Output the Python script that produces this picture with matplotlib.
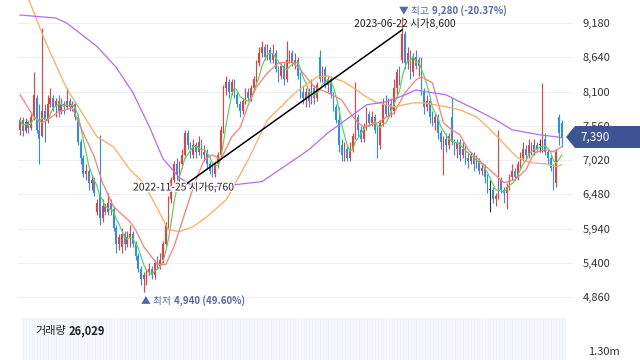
import matplotlib
matplotlib.use('Agg')
import matplotlib.pyplot as plt
import matplotlib.patheffects as pe
from matplotlib.patches import Polygon
import numpy as np
import pandas as pd

# 일봉 데이터 (시가/고가/저가/종가)
opens = [7500,7650,7480,7620,7520,7700,8000,7500,7400,7800,
         7650,7900,8000,7850,7950,7800,7900,7850,7950,7850,
         7900,7700,7300,7050,6800,6850,6650,6700,6200,6500,
         6100,6300,6200,6350,6250,5950,5700,5650,5850,5700,
         5800,5850,5700,5500,5300,5150,5100,5250,5300,5200,
         5400,5350,5450,5700,6000,6400,6700,6950,6760,6950,
         7100,7450,7250,7100,7250,7150,7300,7100,7150,6950,
         6850,6800,6950,7100,7500,8150,8250,8100,8250,8050,
         7900,7800,7950,8100,8000,8150,8300,8550,8700,8800,
         8650,8750,8600,8700,8450,8350,8500,8300,8600,8700,
         8550,8600,8350,8100,8000,8100,7950,8150,8000,8650,
         8300,8450,8200,8300,8050,7850,7650,7250,7100,7200,
         7050,7200,7400,7700,7500,7350,7550,7750,7600,7700,
         7500,7250,7600,7900,7750,7900,7800,8150,8400,8600,
         9000,8550,8700,8400,8650,8500,8600,8100,7850,7950,
         7700,7600,7700,7450,7000,7350,7250,7700,7300,7200,
         7300,7100,7200,7050,7000,7100,6950,7000,6850,6900,
         6750,6550,6550,6400,6450,6700,6550,6500,6600,6750,
         6850,6750,6950,7050,7200,7100,7250,7150,7250,7250,
         7200,7350,7150,7050,6900,6650,7700,7600]
closes = [7650,7480,7620,7520,7700,8050,7500,7350,7800,7650,
          7900,8000,7850,7950,7800,7900,7850,7950,7850,7900,
          7700,7300,7050,6800,6850,6650,6700,6500,6350,6100,
          6300,6200,6350,6250,5950,5700,5800,5850,5700,5800,
          5850,5700,5500,5300,5150,5200,5250,5300,5200,5400,
          5350,5450,5700,6000,6400,6700,6950,6800,6950,7100,
          7450,7250,7100,7250,7150,7300,7100,7150,6950,6850,
          6800,6950,7100,7500,8150,8250,8100,8250,8050,7900,
          7800,7950,8100,8000,8150,8300,8550,8700,8800,8650,
          8750,8600,8700,8450,8350,8500,8300,8600,8700,8550,
          8600,8350,8100,8000,8100,7950,8150,8000,8200,8300,
          8450,8200,8300,8050,7850,7650,7250,7100,7200,7050,
          7200,7400,7700,7500,7350,7550,7750,7600,7700,7500,
          7250,7600,7900,7750,7900,7800,8150,8400,8300,9000,
          8550,8700,8400,8650,8500,8600,8100,7850,7950,7700,
          7600,7700,7450,7300,7350,7250,7400,7300,7200,7300,
          7100,7200,7050,7000,7100,6950,7000,6850,6900,6750,
          6600,6550,6400,6450,6700,6550,6500,6600,6750,6850,
          6750,6950,7050,7200,7100,7250,7150,7250,7200,7250,
          7350,7150,7050,6900,6600,7150,7450,7390]
highs = [7700,7700,7680,7650,7750,8400,8050,7900,9100,7900,
         8050,8150,8050,8000,8050,8000,7950,8150,8000,7950,
         7950,7750,7350,7100,6950,6900,6800,6750,6400,7420,
         6400,6350,6500,6400,6300,6000,5850,5950,5900,5900,
         6000,5900,5750,5550,5350,5250,5300,5400,5350,5450,
         5500,5550,5750,6050,6450,6750,7000,7050,7000,7200,
         7500,7500,7300,7350,7300,7400,7350,7250,7200,7000,
         6950,7000,7150,7550,8200,8350,8300,8300,8300,8100,
         7950,8000,8150,8150,8200,8350,8600,8800,8900,8850,
         8850,8800,8850,8750,8500,8550,8550,8900,8750,8750,
         8700,8650,8400,8200,8150,8150,8300,8200,8250,8750,
         8500,8500,8350,8350,8100,7900,7850,7350,7300,7250,
         7300,7450,8250,7750,7550,7600,7850,7800,7800,7750,
         7550,7650,8000,8050,8000,8000,8300,8450,8500,9280,
         9050,8800,8750,8700,8750,8650,8650,8150,8050,8000,
         7800,7750,7750,7500,7400,7450,7450,8000,7350,7350,
         7350,7300,7250,7150,7150,7150,7100,7050,6950,6950,
         6800,6700,6600,6500,7500,6750,6600,6650,6800,6950,
         6900,7000,7150,7300,7250,7350,7300,7350,7300,7350,
         8240,7450,7200,7100,6950,7200,7750,7650]
lows = [7420,7400,7450,7450,7500,7650,7450,6950,7380,7300,
        7600,7850,7800,7700,7700,7750,7750,7820,7800,7800,
        7650,7250,6950,6750,6700,6550,6550,6450,6150,6000,
        6050,6150,6150,6150,5900,5550,5600,5550,5600,5650,
        5650,5650,5450,5250,5050,4940,5050,5200,5150,5150,
        5300,5300,5400,5650,5950,6350,6650,6700,6650,6900,
        7050,7200,7050,7050,7050,7100,7050,7000,6900,6800,
        6750,6750,6900,7050,7450,8050,8000,8050,8000,7850,
        7700,7750,7900,7950,7950,8100,8250,8500,8650,8600,
        8600,8550,8550,8400,8250,8300,8200,8250,8550,8500,
        8450,8300,8000,7900,7850,7850,7900,7900,7950,8250,
        8250,8150,8100,8000,7800,7600,7150,7000,7000,7000,
        7000,7150,7350,7400,7300,7300,7500,7550,7550,7450,
        7050,7200,7550,7700,7700,7700,7750,8050,8200,8550,
        8450,8450,8300,8350,8450,8350,8050,7750,7800,7600,
        7550,7500,7350,7200,6780,7150,7200,7250,7100,7050,
        7000,7050,6950,6900,6950,6850,6900,6800,6780,6650,
        6500,6200,6350,6300,6400,6500,6350,6240,6550,6700,
        6700,6700,6900,7000,7000,7050,7100,7100,7150,7150,
        7150,7100,6950,6850,6550,6600,7250,7230]

# 이동평균선 (20/60/120일) - 그림에서 읽은 값
ma20_idx = [0,5,8,10,14,19,22,27,30,34,40,42,45,50,53,56,60,64,67,70,73,77,80,83,86,90,94,
            99,102,107,112,117,120,123,125,130,136,140,144,146,150,152,154,157,160,163,168,
            172,176,180,184,187,191,194,197]
ma20_val = [8050,7700,7606,7653,7779,7842,7543,7071,6662,6284,6048,5922,5654,5371,5371,5654,
            6189,6709,7024,7102,7024,7386,7527,7889,8173,8393,8550,8566,8440,8173,8078,7968,
            7763,7606,7543,7606,7763,8078,8283,8330,8236,7921,7606,7496,7417,7181,6976,6819,
            6662,6709,6866,7134,7181,7150,7230]
ma60_idx = [0,9,16,18,28,34,40,45,54,58,63,68,75,78,83,90,100,108,112,118,126,130,136,143,
            147,155,160,166,170,174,178,181,186,191,195,197]
ma60_val = [9900,8912,8236,8078,7386,7228,6866,6662,5922,5890,5969,6126,6394,6630,7024,7653,
            8078,8330,8346,8251,8015,7921,7858,7921,7921,7858,7811,7700,7543,7370,7181,7055,
            6976,6960,6913,6945]
ma120_idx = [0,13,17,28,35,41,47,52,58,62,66,78,88,96,105,112,120,126,133,140,144,148,155,
             160,166,173,179,185,189,195,197]
ma120_val = [9306,9259,9180,8810,8480,8086,7550,7040,6740,6630,6580,6630,6680,6914,7181,7449,
             7700,7890,7937,8047,8125,8094,8047,7937,7811,7653,7496,7449,7417,7386,7370]

price_ticks = [4860, 5400, 5940, 6480, 7020, 7560, 8100, 8640, 9180]
trend_idx = [57.5, 138.9]
trend_val = [6550, 9070]
last_price = closes[-1]

plt.rcParams['font.family'] = ['Noto Sans CJK KR', 'DejaVu Sans']

W, H = 640, 360
fig = plt.figure(figsize=(6.4, 3.6), dpi=100)
fig.patch.set_facecolor('white')
ax = fig.add_axes([18/W, 50/H, 555/W, 310/H])
vax = fig.add_axes([22/W, 0, 544/W, 42/H])

o = np.array(opens); c = np.array(closes)
hi = np.array(highs); lo = np.array(lows)
x = np.arange(len(c))
cols = np.where(c > o, '#f23b3b', np.where(c < o, '#2b8ef2', '#333333'))

# 캔들
ax.vlines(x, lo, hi, colors=cols, linewidth=0.8, zorder=3)
body = np.maximum(np.abs(c - o), 20)
ax.bar(x, body, bottom=np.minimum(o, c), width=0.65, color=cols, linewidth=0, zorder=3)

# 이동평균
ma5 = pd.Series(c).rolling(5, min_periods=1).mean()
ax.plot(x, ma5, color='#5cd65c', lw=0.9, zorder=4)
ax.plot(ma20_idx, ma20_val, color='#ff7b7b', lw=0.9, zorder=4)
ax.plot(ma60_idx, ma60_val, color='#ffab5e', lw=0.9, zorder=4)
ax.plot(ma120_idx, ma120_val, color='#b46cf7', lw=0.9, zorder=4)

# 추세선
ax.plot(trend_idx, trend_val, color='black', lw=1.1, zorder=5)

ax.set_xlim(-0.73, 201.1)
ax.set_ylim(4655, 9543)
for t in price_ticks:
    ax.axhline(t, color='#edf0f6', lw=0.8, zorder=0)
ax.set_yticks(price_ticks)
ax.set_yticklabels([f'{t:,}' for t in price_ticks])
ax.yaxis.tick_right()
ax.tick_params(axis='y', length=0, pad=7, labelsize=8, labelcolor='#333333')
ax.set_xticks([])
for s in ax.spines.values():
    s.set_visible(False)
ax.set_facecolor('none')

# 거래량 영역
vax.set_facecolor('#f4f7fc')
vax.vlines(x, 0, 1, color='#edf1f8', lw=0.5)
vax.set_xlim(-0.5, len(c) - 0.5)
vax.set_ylim(0, 1)
vax.set_xticks([]); vax.set_yticks([])
for s in vax.spines.values():
    s.set_visible(False)

renderer = fig.canvas.get_renderer()

def ftxt(px, py, s, **kw):
    return fig.text(px/W, 1 - py/H, s, va='center', **kw)

def pair(px, py, a, b, color, size=7.0, wb='bold'):
    # 앞 글자 폭을 재서 두번째 글자를 바로 옆에 붙임
    t = ftxt(px, py, a, fontsize=size, color=color)
    w = t.get_window_extent(renderer).width
    ftxt(px + w + 3, py, b, fontsize=size, color=color, fontweight=wb)

blue = '#5468b0'
pair(399, 11, '▼ 최고', '9,280 (-20.37%)', blue)
ftxt(354, 23, '2023-06-22 시가8,600', fontsize=7.5, color='#222222')
ftxt(133, 187, '2022-11-25 시가6,760', fontsize=7.5, color='#222222',
     path_effects=[pe.withStroke(linewidth=2, foreground='white')])
pair(141, 301, '▲ 최저', '4,940 (49.60%)', blue)
pair(35, 331, '거래량', '26,029', '#222222', size=8)
ftxt(588, 352, '1.30m', fontsize=8, color='#333333')

# 현재가 표시
pts = np.array([[566, 137], [575, 126], [640, 126], [640, 148], [575, 148]], dtype=float)
pts[:, 0] /= W
pts[:, 1] = 1 - pts[:, 1] / H
fig.add_artist(Polygon(pts, closed=True, facecolor='#3d5394', edgecolor='none',
                       transform=fig.transFigure, zorder=10))
fig.text(580/W, 1 - 137/H, f'{last_price:,}', color='white', fontsize=8.5,
         va='center', zorder=11)

fig.savefig('out.png', dpi=100)
